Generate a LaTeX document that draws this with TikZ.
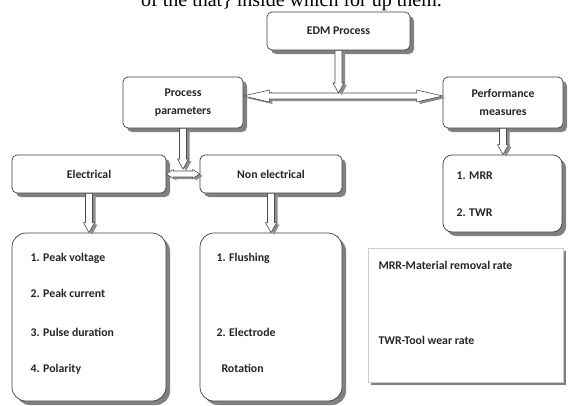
\documentclass[tikz,border=0pt]{standalone}
\usepackage{fontspec}
\setmainfont{Liberation Serif}
\newfontfamily\boxfont{Carlito}
\usetikzlibrary{shadows,calc}

\newcommand\vpath{(\x1-3.5pt,\y1) -- (\x1-3.5pt,\y2+10pt) -- (\x1-5.5pt,\y2+10pt) -- (\x1,\y2) -- (\x1+5.5pt,\y2+10pt) -- (\x1+3.5pt,\y2+10pt) -- (\x1+3.5pt,\y1) -- cycle}
\newcommand\hpath[3]{(\x1,\y1) -- (\x1+#3,\y1+#2) -- (\x1+#3,\y1+#1) -- (\x2-#3,\y1+#1) -- (\x2-#3,\y1+#2) -- (\x2,\y1) -- (\x2-#3,\y1-#2) -- (\x2-#3,\y1-#1) -- (\x1+#3,\y1-#1) -- (\x1+#3,\y1-#2) -- cycle}
\newcommand\varr[2]{%
  \path[arrshadow] let \p1=(#1), \p2=(#2) in \vpath;
  \path[arrbody] let \p1=(#1), \p2=(#2) in \vpath;}
\newcommand\harr[5]{%
  \path[arrshadow] let \p1=(#1), \p2=(#2) in \hpath{#3}{#4}{#5};
  \path[arrbody] let \p1=(#1), \p2=(#2) in \hpath{#3}{#4}{#5};}

\begin{document}
\begin{tikzpicture}[x=1pt,y=-1pt,
  bx/.style={draw=black!75, line width=0.7pt, fill=white, rounded corners=5pt,
    drop shadow={shadow xshift=4pt, shadow yshift=-4pt, fill=black!50, opacity=1}},
  lbx/.style={bx, rounded corners=14pt},
  legbx/.style={draw=black!20, line width=0.5pt, fill=white,
    drop shadow={shadow xshift=3pt, shadow yshift=-3pt, fill=black!50, opacity=1}},
  tx/.style={font=\boxfont\bfseries\fontsize{11.8}{13}\selectfont, text=black!85},
  ltx/.style={tx, anchor=base west},
  arrshadow/.style={fill=black!45, transform canvas={shift={(3pt,-2pt)}}},
  arrbody/.style={draw=black!70, line width=0.6pt, fill=white, line join=miter},
]
\useasboundingbox (0,0) rectangle (568,405);
\fill[white] (0,0) rectangle (568,405);

% partial line of running text at the very top
\node[anchor=base west, inner sep=0pt, font=\fontsize{20}{22}\selectfont] (runtxt) at (141,6) {of the that\} inside which for up them.};

% boxes
\node[bx, minimum width=143pt, minimum height=38pt, tx] (edm) at (338.5,31) {EDM Process};
\node[bx, minimum width=120pt, minimum height=51pt, tx, align=center] (pp) at (183,102.5) {Process\\[5pt]parameters};
\node[bx, minimum width=120pt, minimum height=51pt, tx, align=center] (pm) at (503,102.5) {Performance\\[5pt]measures};
\node[bx, minimum width=154pt, minimum height=38pt, tx] (el) at (89,174) {Electrical};
\node[bx, minimum width=142pt, minimum height=38pt, tx] (ne) at (271,174) {Non electrical};
\node[lbx, minimum width=154pt, minimum height=168pt] (ell) at (89,317) {};
\node[lbx, minimum width=142pt, minimum height=168pt] (nel) at (271,317) {};
\node[bx, rounded corners=9pt, minimum width=119pt, minimum height=77pt] (mrr) at (502.5,193.5) {};
\node[legbx, minimum width=195pt, minimum height=134pt] (leg) at (465.5,315) {};

% list texts
\node[ltx] (e1) at (27,261) {1. Peak voltage};
\node[ltx] (e2) at (27,297) {2. Peak current};
\node[ltx] (e3) at (27,336) {3. Pulse duration};
\node[ltx] (e4) at (27,372) {4. Polarity};
\node[ltx] (n1) at (213,261) {1. Flushing};
\node[ltx] (n2) at (213,336) {2. Electrode};
\node[ltx] (n3) at (218,372) {Rotation};
\node[ltx] (m1) at (453,179) {1. MRR};
\node[ltx] (m2) at (453,216) {2. TWR};
\node[ltx] (l1) at (375,269) {MRR-Material removal rate};
\node[ltx] (l2) at (375,344) {TWR-Tool wear rate};

% connectors
\coordinate (hub) at (340,96);
\coordinate (hub2) at (183,174);
\harr{pp.east |- hub}{pm.west |- hub}{3pt}{6pt}{26pt}
\varr{edm.south}{$(edm.south |- hub)+(0,-3)$}
\harr{el.east |- hub2}{ne.west |- hub2}{3pt}{4.5pt}{7pt}
\varr{pp.south}{$(pp.south |- hub2)+(0,-5)$}
\varr{el.south}{ell.north}
\varr{ne.south}{nel.north}
\varr{pm.south}{mrr.north}
\end{tikzpicture}
\end{document}
